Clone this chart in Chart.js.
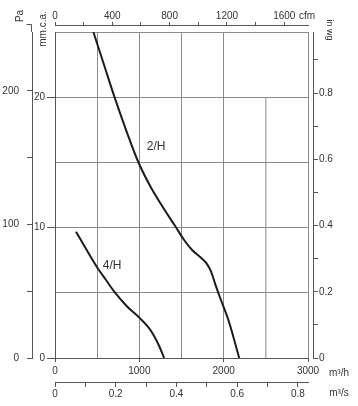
<!DOCTYPE html>
<html><head><meta charset="utf-8">
<script src="https://cdn.jsdelivr.net/npm/chart.js@4.4.1/dist/chart.umd.min.js"></script>
<style>html,body{margin:0;padding:0;background:#fff}canvas{display:block}</style>
</head><body>
<canvas id="c" width="358" height="406"></canvas>
<script>
// ---- data (flow in m3/h, pressure in mm.c.a.) ----
const flow2H = [455, 582, 704, 843, 989, 1128, 1270, 1425, 1531, 1626, 1721, 1793, 1852, 1900, 1959, 2060, 2184];
const pres2H = [25.0, 22.47, 20.04, 17.48, 15.01, 13.19, 11.66, 10.12, 9.05, 8.28, 7.75, 7.29, 6.60, 5.67, 4.60, 2.84, 0];
const flow4H = [249, 376, 495, 605, 712, 855, 1009, 1104, 1175, 1235, 1294];
const pres4H = [9.69, 8.28, 7.00, 5.98, 5.01, 3.95, 3.04, 2.38, 1.69, 0.92, 0];
const curveNames = ['2/H', '4/H'];
const curveLabelFlow = [1199, 677];
const curveLabelPres = [16.2, 7.05];
// ticks and tick labels
const flowTicks = [0, 500, 1000, 1500, 2000, 2500, 3000];
const flowLabels = [0, 1000, 2000, 3000];                      // m3/h
const m3sTicks = [0, 0.1, 0.2, 0.3, 0.4, 0.5, 0.6, 0.7, 0.8];
const m3sLabels = [0, 0.2, 0.4, 0.6, 0.8];                     // m3/s
const cfmTicks = [0, 200, 400, 600, 800, 1000, 1200, 1400, 1600];
const cfmLabels = [0, 400, 800, 1200, 1600];                   // cfm
const mmTicks = [0, 5, 10, 15, 20, 25];
const mmLabels = [0, 10, 20];                                  // mm.c.a.
const paTicks = [0, 50, 100, 150, 200];
const paLabels = [0, 100, 200];                                // Pa
const paTopTick = 250;                                         // Pa tick above the plot
const inwgTicks = [0, 0.1, 0.2, 0.3, 0.4, 0.5, 0.6, 0.7, 0.8, 0.9];
const inwgLabels = [0, 0.2, 0.4, 0.6, 0.8];                    // in wg
// grid segment that stops at 20 mm
const partialGridFlow = [2500, 2500];
const partialGridPres = [0, 20];

const FONT = 'Liberation Sans, Arial, sans-serif';
const TXT = '#333';
const AXIS = '#555';
const GRID = '#8a8a8a';
const CURVE = '#1c1c1c';
const NONE = 'rgba(0,0,0,0)';
const near = (v, arr) => arr.some(a => Math.abs(a - v) < 1e-6);
const fmt = v => (Math.abs(v) < 1e-9 ? '0' : (Number.isInteger(v) ? String(v) : v.toFixed(1)));
const tickFont = {family: FONT, size: 10};
const setTicks = arr => (s => { s.ticks = arr.map(v => ({value: v})); });

const pts = (xs, ys) => xs.map((x, i) => ({x, y: ys[i]}));

const textPlugin = {
  id: 'texts',
  afterDraw(chart) {
    const c = chart.ctx;
    c.save();
    // Pa axis continues above the plot up to its 250 tick
    const pa = chart.scales.ypa;
    const yTop = Math.round(pa.getPixelForValue(paTopTick)) + 0.5;
    const xr = Math.round(pa.right) - 0.5;
    c.strokeStyle = AXIS; c.lineWidth = 1;
    c.beginPath();
    c.moveTo(xr, chart.chartArea.top); c.lineTo(xr, yTop);
    c.lineTo(xr - 5, yTop);
    c.stroke();

    c.fillStyle = TXT;
    c.textAlign = 'center';
    c.textBaseline = 'middle';
    c.font = '10px ' + FONT;
    c.fillText('cfm', 307, 16);
    c.fillText('m\u00B3/h', 339, 373);
    c.fillText('m\u00B3/s', 339, 393);
    c.save(); c.translate(20, 16); c.rotate(-Math.PI / 2); c.fillText('Pa', 0, 0); c.restore();
    c.save(); c.translate(43.5, 29); c.rotate(-Math.PI / 2); c.fillText('mm.c.a.', 0, 0); c.restore();
    c.save(); c.translate(329, 30); c.rotate(Math.PI / 2); c.font = '9px ' + FONT; c.fillText('in wg', 0, 0); c.restore();
    const sx = chart.scales.x, sy = chart.scales.y;
    c.font = '12px ' + FONT;
    curveNames.forEach((n, i) => {
      c.fillText(n, sx.getPixelForValue(curveLabelFlow[i]), sy.getPixelForValue(curveLabelPres[i]));
    });
    c.restore();
  }
};

const spacer = (axis, position, size) => ({
  type: 'linear', axis, position, weight: 0, display: true,
  ticks: {display: false}, grid: {display: false}, border: {display: false},
  afterFit: s => { if (axis === 'x') s.height = size; else s.width = size; }
});

new Chart(document.getElementById('c'), {
  type: 'line',
  data: {
    datasets: [
      {data: pts(flow2H, pres2H), borderColor: CURVE, borderWidth: 2, pointRadius: 0, cubicInterpolationMode: 'monotone', xAxisID: 'x', yAxisID: 'y'},
      {data: pts(flow4H, pres4H), borderColor: CURVE, borderWidth: 2, pointRadius: 0, cubicInterpolationMode: 'monotone', xAxisID: 'x', yAxisID: 'y'},
      {data: pts(partialGridFlow, partialGridPres), borderColor: GRID, borderWidth: 1, pointRadius: 0, xAxisID: 'x', yAxisID: 'y'}
    ]
  },
  options: {
    responsive: false, animation: false, devicePixelRatio: 1,
    layout: {padding: 0},
    plugins: {legend: {display: false}, tooltip: {enabled: false}},
    scales: {
      x: {
        type: 'linear', axis: 'x', position: 'bottom', weight: 0, min: 0, max: 3000,
        afterBuildTicks: setTicks(flowTicks),
        afterFit: s => { s.height = 24; },
        ticks: {autoSkip: false, maxRotation: 0, minRotation: 0, padding: 3, color: TXT, font: tickFont,
          callback: v => near(v, flowLabels) ? fmt(v) : ''},
        grid: {color: ctx => (ctx.tick && Math.abs(ctx.tick.value - 2500) < 1e-6) ? NONE : GRID,
          lineWidth: 1, tickLength: 4,
          tickColor: ctx => (ctx.tick && near(ctx.tick.value, flowLabels)) ? AXIS : NONE},
        border: {display: true, color: AXIS}
      },
      xs: {
        type: 'linear', axis: 'x', position: 'bottom', weight: 1, min: 0, max: 3000 / 3600,
        afterBuildTicks: setTicks(m3sTicks),
        afterFit: s => { s.height = 24; },
        ticks: {autoSkip: false, maxRotation: 0, minRotation: 0, padding: 1, color: TXT, font: tickFont,
          callback: v => near(v, m3sLabels) ? fmt(v) : ''},
        grid: {drawOnChartArea: false, tickLength: 5, tickColor: AXIS},
        border: {display: true, color: AXIS}
      },
      xc: {
        type: 'linear', axis: 'x', position: 'top', weight: 1, min: 0, max: 3000 / 1.699,
        afterBuildTicks: setTicks(cfmTicks),
        afterFit: s => { s.height = 25; },
        ticks: {autoSkip: false, maxRotation: 0, minRotation: 0, padding: 0, color: TXT, font: tickFont,
          callback: v => near(v, cfmLabels) ? fmt(v) : ''},
        grid: {drawOnChartArea: false, tickLength: 3, tickColor: AXIS},
        border: {display: true, color: AXIS}
      },
      xsp: spacer('x', 'top', 7),
      y: {
        type: 'linear', axis: 'y', position: 'left', weight: 0, min: 0, max: 25,
        afterBuildTicks: setTicks(mmTicks),
        afterFit: s => { s.width = 23; },
        ticks: {autoSkip: false, padding: 2, color: TXT, font: tickFont,
          callback: v => near(v, mmLabels) ? fmt(v) : ''},
        grid: {color: GRID, lineWidth: 1, tickLength: 8,
          tickColor: ctx => (ctx.tick && near(ctx.tick.value, mmLabels)) ? AXIS : NONE},
        border: {display: true, color: AXIS}
      },
      ypa: {
        type: 'linear', axis: 'y', position: 'left', weight: 1, min: 0, max: 244,
        afterBuildTicks: setTicks(paTicks),
        afterFit: s => { s.width = 32; },
        ticks: {autoSkip: false, padding: 8, color: TXT, font: tickFont,
          callback: v => near(v, paLabels) ? fmt(v) : ''},
        grid: {drawOnChartArea: false, tickLength: 5, tickColor: AXIS},
        border: {display: true, color: AXIS}
      },
      ysp: spacer('y', 'right', 5),
      yin: {
        type: 'linear', axis: 'y', position: 'right', weight: 1, min: 0, max: 25 / 25.4,
        afterBuildTicks: setTicks(inwgTicks),
        afterFit: s => { s.width = 45; },
        ticks: {autoSkip: false, padding: 1, color: TXT, font: tickFont,
          callback: v => near(v, inwgLabels) ? fmt(v) : ''},
        grid: {drawOnChartArea: false, tickLength: 5, tickColor: AXIS},
        border: {display: true, color: AXIS}
      }
    }
  },
  plugins: [textPlugin]
});
</script>
</body></html>
